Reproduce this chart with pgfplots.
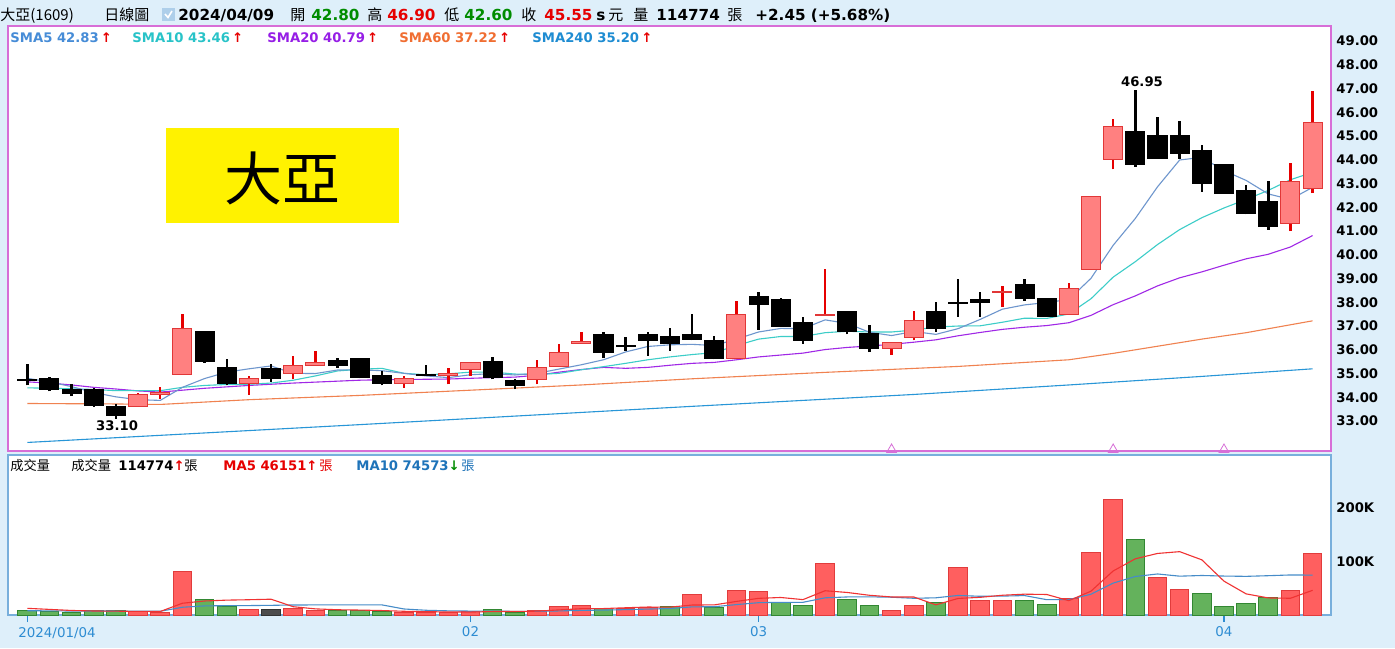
\documentclass[border=0pt]{standalone}
\usepackage{pgfplots}
\pgfplotsset{compat=1.18}
\usepackage{pgfplotstable}
\usepackage{fontspec}
\setmainfont{DejaVu Sans}
\newfontfamily\cjk{Noto Sans CJK TC}
\definecolor{bg}{RGB}{222,239,250}
\definecolor{pinkb}{RGB}{215,110,215}
\definecolor{blueb}{RGB}{120,175,220}
\definecolor{upfill}{RGB}{255,128,128}
\definecolor{upline}{RGB}{225,55,55}
\definecolor{wickred}{RGB}{230,0,0}
\definecolor{volred}{RGB}{255,95,95}
\definecolor{volredl}{RGB}{225,60,60}
\definecolor{volgreen}{RGB}{100,178,92}
\definecolor{volgreenl}{RGB}{50,135,50}
\definecolor{smaA}{RGB}{110,150,205}
\definecolor{smaB}{RGB}{60,205,200}
\definecolor{smaC}{RGB}{160,40,230}
\definecolor{smaD}{RGB}{240,130,80}
\definecolor{smaE}{RGB}{40,150,215}
\definecolor{txA}{RGB}{70,140,215}
\definecolor{txB}{RGB}{40,195,200}
\definecolor{txC}{RGB}{150,30,230}
\definecolor{txD}{RGB}{240,110,50}
\definecolor{txE}{RGB}{30,140,210}
\definecolor{hdgreen}{RGB}{0,140,0}
\definecolor{hdred}{RGB}{230,0,0}
\definecolor{xlab}{RGB}{45,140,210}
\definecolor{maten}{RGB}{30,115,185}
\definecolor{ma10line}{RGB}{70,140,200}
\definecolor{ma5line}{RGB}{240,50,50}
\newcommand\tickfont{\fontsize{6.6}{7.5}\selectfont\bfseries}
\newcommand\hdf{\fontsize{7.6}{9}\selectfont\bfseries}
\newcommand\hcf{\fontsize{7.5}{9}\selectfont\cjk}
\newcommand\lgf{\fontsize{6.6}{8}\selectfont\bfseries}
\newcommand\lcf{\fontsize{6.6}{8}\selectfont\cjk}

\pgfplotstableread{
i o h l c
0 34.75 35.40 34.50 34.70
1 34.80 34.85 34.25 34.35
2 34.35 34.55 34.05 34.15
3 34.35 34.40 33.60 33.65
4 33.60 33.70 33.10 33.25
5 33.60 34.20 33.60 34.10
6 34.10 34.45 33.95 34.20
7 34.95 37.50 34.95 36.90
8 36.75 36.75 35.45 35.50
9 35.25 35.60 34.50 34.60
10 34.60 34.90 34.10 34.80
11 35.20 35.40 34.65 34.80
12 35.00 35.75 34.75 35.35
13 35.35 35.95 35.35 35.45
14 35.55 35.65 35.25 35.35
15 35.65 35.65 34.80 34.85
16 34.90 35.10 34.50 34.60
17 34.60 34.90 34.40 34.80
18 34.95 35.35 34.90 34.90
19 34.90 35.25 34.55 35.00
20 35.15 35.50 34.90 35.45
21 35.50 35.70 34.75 34.85
22 34.70 34.75 34.35 34.50
23 34.75 35.55 34.55 35.25
24 35.30 36.25 35.30 35.90
25 36.25 36.75 36.25 36.35
26 36.65 36.75 35.65 35.90
27 36.20 36.55 35.95 36.15
28 36.65 36.75 35.75 36.40
29 36.55 36.90 35.95 36.25
30 36.65 37.50 36.40 36.45
31 36.40 36.60 35.60 35.65
32 35.65 38.05 35.60 37.50
33 38.25 38.45 36.85 37.90
34 38.10 38.20 37.00 37.00
35 37.15 37.40 36.25 36.40
36 37.45 39.40 37.45 37.50
37 37.60 37.65 36.65 36.75
38 36.70 37.05 35.90 36.05
39 36.05 36.30 35.80 36.30
40 36.50 37.65 36.40 37.25
41 37.60 38.00 36.75 36.90
42 38.00 39.00 37.40 37.95
43 38.10 38.45 37.40 38.00
44 38.40 38.70 37.80 38.45
45 38.75 39.00 38.05 38.15
46 38.15 38.20 37.40 37.40
47 37.50 38.80 37.50 38.60
48 39.40 42.45 39.40 42.45
49 44.00 45.70 43.60 45.40
50 45.20 46.95 43.70 43.80
51 45.00 45.80 44.05 44.05
52 45.00 45.65 44.05 44.25
53 44.40 44.60 42.65 43.00
54 43.80 43.80 42.60 42.60
55 42.70 42.95 41.70 41.75
56 42.25 43.10 41.05 41.20
57 41.30 43.85 41.00 43.10
58 42.80 46.90 42.60 45.55
}\ohlc

\pgfplotstableread{
i s5 s10 s20
0 34.80 34.40 34.65
1 34.65 34.38 34.60
2 34.45 34.36 34.52
3 34.20 34.33 34.42
4 34.02 34.28 34.35
5 33.90 34.28 34.27
6 33.87 34.28 34.22
7 34.42 34.42 34.30
8 34.79 34.50 34.38
9 35.06 34.54 34.44
10 35.20 34.55 34.50
11 35.32 34.60 34.55
12 35.01 34.72 34.60
13 35.00 34.90 34.64
14 35.15 35.11 34.68
15 35.16 35.18 34.72
16 35.12 35.22 34.74
17 35.01 35.01 34.75
18 34.90 34.95 34.76
19 34.83 34.99 34.77
20 34.95 35.06 34.80
21 35.00 35.06 34.83
22 34.94 34.98 34.85
23 35.01 34.96 34.93
24 35.19 35.01 35.06
25 35.37 35.16 35.17
26 35.58 35.29 35.26
27 35.91 35.43 35.22
28 36.14 35.58 35.26
29 36.21 35.70 35.35
30 36.23 35.80 35.43
31 36.18 35.88 35.47
32 36.45 36.18 35.58
33 36.75 36.45 35.70
34 36.90 36.56 35.78
35 36.89 36.56 35.86
36 37.26 36.72 36.01
37 37.11 36.78 36.10
38 36.74 36.75 36.16
39 36.60 36.75 36.23
40 36.77 36.83 36.32
41 36.65 36.96 36.42
42 36.89 37.00 36.59
43 37.28 37.01 36.73
44 37.71 37.16 36.86
45 37.89 37.33 36.95
46 37.99 37.32 37.02
47 38.12 37.51 37.14
48 39.01 38.15 37.45
49 40.40 39.06 37.90
50 41.53 39.71 38.27
51 42.86 40.43 38.69
52 43.99 41.06 39.03
53 44.10 41.56 39.28
54 43.54 41.97 39.56
55 43.13 42.33 39.83
56 42.56 42.71 40.02
57 42.33 43.16 40.33
58 42.84 43.47 40.81
}\sma

\pgfplotstableread{
i v
0 33.74
4 33.72
6 33.70
10 33.90
15 34.08
20 34.30
25 34.52
30 34.78
36 35.05
42 35.30
47 35.58
49 35.85
51 36.15
53 36.45
55 36.72
58 37.22
}\smasixty

\pgfplotstableread{
i v
0 32.10
15 32.85
30 33.62
40 34.12
47 34.52
53 34.88
58 35.20
}\smatwoforty

\pgfplotstableread{
i m5 m10
0 12.5 8.0
1 10.5 7.8
2 8.5 7.5
3 7.5 7.5
4 7.2 7.4
5 6.72 7.2
6 6.6 7.0
7 22.0 14.5
8 26.2 17.0
9 27.82 17.51
10 28.56 17.64
11 29.56 18.08
12 15.52 18.76
13 11.46 18.83
14 9.84 18.83
15 9.22 18.89
16 8.34 18.95
17 6.98 11.25
18 6.24 8.85
19 5.74 7.79
20 5.48 7.35
21 6.48 7.41
22 6.6 6.79
23 7.2 6.72
24 9.56 7.65
25 11.8 8.64
26 12.06 9.27
27 13.54 10.07
28 14.92 11.06
29 14.68 12.12
30 18.68 15.24
31 18.92 15.49
32 25.4 19.47
33 31.14 23.03
34 32.76 23.72
35 28.76 23.72
36 45.34 32.13
37 42.12 33.76
38 36.88 34.01
39 33.74 33.25
40 33.74 31.25
41 19.0 32.17
42 30.94 36.53
43 33.06 34.97
44 36.94 35.34
45 38.94 36.34
46 38.36 28.68
47 26.8 28.87
48 44.6 38.83
49 82.32 59.63
50 105.04 71.99
51 115.04 76.7
52 118.4 72.6
53 103.12 73.86
54 63.28 72.8
55 39.46 72.25
56 31.92 73.48
57 31.3 74.85
58 46.15 74.57
}\volma

\pgfplotsset{
  upwick/.style={draw=wickred, line width=1.2pt},
  dnwick/.style={draw=black, line width=1.2pt},
  upbody/.style={fill=upfill, draw=upline, line width=0.5pt},
  dnbody/.style={fill=black, draw=black, line width=0.5pt},
}

\begin{document}
\begin{tikzpicture}
\begin{scope}[x=0.5pt,y=-0.5pt]
\fill[bg] (0,0) rectangle (1395,648);
\useasboundingbox (0,0) rectangle (1395,648);
\end{scope}

% ---------- price panel ----------
\begin{axis}[
  at={(4pt,-225.5pt)}, anchor=south west,
  scale only axis, width=661.5pt, height=212.5pt,
  xmin=-0.871, xmax=58.83, ymin=31.74, ymax=49.63,
  axis background/.style={fill=white},
  axis line style={draw=pinkb, line width=0.6pt},
  xtick=\empty,
  ytick={33,34,...,49},
  yticklabel pos=right,
  major tick length=0pt,
  yticklabel style={anchor=west, inner sep=0pt, xshift=2.5pt, font=\tickfont,
    /pgf/number format/fixed, /pgf/number format/fixed zerofill,
    /pgf/number format/precision=2, /pgf/number format/assume math mode=true},
]
\addplot[smaE, line width=0.55pt] table[x=i,y=v] {\smatwoforty};
\addplot[smaD, line width=0.55pt] table[x=i,y=v] {\smasixty};
\addplot[smaC, line width=0.55pt] table[x=i,y=s20] {\sma};
\addplot[smaB, line width=0.55pt] table[x=i,y=s10] {\sma};
\addplot[smaA, line width=0.55pt] table[x=i,y=s5] {\sma};
\pgfplotsforeachungrouped \k in {0,...,58}{%
  \pgfplotstablegetelem{\k}{o}\of\ohlc \let\O\pgfplotsretval
  \pgfplotstablegetelem{\k}{h}\of\ohlc \let\H\pgfplotsretval
  \pgfplotstablegetelem{\k}{l}\of\ohlc \let\L\pgfplotsretval
  \pgfplotstablegetelem{\k}{c}\of\ohlc \let\C\pgfplotsretval
  \pgfmathsetmacro\xa{\k-0.43}%
  \pgfmathsetmacro\xb{\k+0.43}%
  \pgfmathparse{\C>\O ? 1 : 0}%
  \ifdim\pgfmathresult pt>0.5pt \def\kind{up}\else\def\kind{dn}\fi
  \edef\doplot{%
    \noexpand\addplot[\kind wick] coordinates {(\k,\L) (\k,\H)};%
    \noexpand\addplot[\kind body] coordinates {(\xa,\O) (\xb,\O) (\xb,\C) (\xa,\C)} -- cycle;%
  }\doplot
}
\addplot[only marks, mark=triangle, mark size=2.8pt, draw=pinkb] coordinates {(39,31.80) (49,31.80) (54,31.80)};
\node[font=\tickfont] at (axis cs:4.05,32.82) {33.10};
\node[font=\tickfont] at (axis cs:50.3,47.3) {46.95};
\end{axis}

% ---------- volume panel ----------
\begin{axis}[
  at={(4pt,-307.5pt)}, anchor=south west,
  scale only axis, width=661.5pt, height=80pt,
  xmin=-0.871, xmax=58.83, ymin=0, ymax=299,
  axis background/.style={fill=white},
  axis line style={draw=blueb, line width=0.6pt},
  xtick={0,20,33,54}, xticklabels={,02,03,04},
  xtick pos=left,
  tick align=outside,
  major tick length=3.5pt,
  xtick style={draw=xlab, line width=0.6pt},
  xticklabel style={font=\fontsize{6.7}{8}\selectfont, text=xlab, inner sep=0pt, yshift=-2pt},
  ytick={100,200}, yticklabels={100K,200K},
  yticklabel pos=right,
  ytick style={draw=none},
  yticklabel style={anchor=west, inner sep=0pt, xshift=-1pt, font=\tickfont},
]
\addplot[ybar, bar width=0.84, bar shift=0pt, fill=volred, draw=volredl, line width=0.5pt] coordinates {
(5,6.9) (6,5.6) (7,82) (10,10.6) (12,11.8) (13,8.7) (17,5.0) (18,5.0) (19,5.0) (20,6.2)
(23,8.0) (24,16.8) (25,17.4) (27,13.0) (28,14.9) (30,37.4) (32,45.4) (33,43.6) (36,96.6)
(39,8.0) (40,17.4) (42,89) (43,28) (44,27.4) (47,31.2) (48,117) (49,216) (51,70) (52,48)
(57,44.9) (58,114.774)};
\addplot[ybar, bar width=0.84, bar shift=0pt, fill=volgreen, draw=volgreenl, line width=0.5pt] coordinates {
(0,9.3) (1,6.2) (2,5.0) (3,8.0) (4,7.5) (8,29) (9,15.6) (14,7.5) (15,7.5) (16,6.2) (21,11.2)
(22,5.6) (26,12.5) (29,15.6) (31,13.7) (34,23.7) (35,17.4) (37,29.3) (38,17.4) (41,22.9)
(45,27.4) (46,20) (50,141) (53,40.6) (54,16.8) (55,21.9) (56,32.3)};
\addplot[ybar, bar width=0.84, bar shift=0pt, fill=black!70, draw=black!80, line width=0.5pt] coordinates {(11,10.6)};
\addplot[ma10line, line width=0.55pt] table[x=i,y=m10] {\volma};
\addplot[ma5line, line width=0.55pt] table[x=i,y=m5] {\volma};
\end{axis}

% ---------- texts ----------
\begin{scope}[x=0.5pt,y=-0.5pt]
% header
\node[anchor=base west, inner sep=0pt] at (0,20) {\hcf 大亞(1609)};
\node[anchor=base west, inner sep=0pt] at (104,20) {\hcf 日線圖};
\fill[blueb!60] (162,8) rectangle (175,21);
\draw[white, line width=0.8pt] (165,14) -- (168,17.5) -- (172,11);
\node[anchor=base west, inner sep=0pt] at (178,20) {\hdf 2024/04/09};
\node[anchor=base west, inner sep=0pt] at (290,20) {\hcf 開};
\node[anchor=base west, inner sep=0pt, text=hdgreen] at (311,20) {\hdf 42.80};
\node[anchor=base west, inner sep=0pt] at (367,20) {\hcf 高};
\node[anchor=base west, inner sep=0pt, text=hdred] at (387,20) {\hdf 46.90};
\node[anchor=base west, inner sep=0pt] at (444,20) {\hcf 低};
\node[anchor=base west, inner sep=0pt, text=hdgreen] at (464,20) {\hdf 42.60};
\node[anchor=base west, inner sep=0pt] at (521,20) {\hcf 收};
\node[anchor=base west, inner sep=0pt, text=hdred] at (544,20) {\hdf 45.55};
\node[anchor=base west, inner sep=0pt] at (596,20) {\hdf s};
\node[anchor=base west, inner sep=0pt] at (608,20) {\hcf 元};
\node[anchor=base west, inner sep=0pt] at (633,20) {\hcf 量};
\node[anchor=base west, inner sep=0pt] at (656,20) {\hdf 114774};
\node[anchor=base west, inner sep=0pt] at (727,20) {\hcf 張};
\node[anchor=base west, inner sep=0pt] at (755,20) {\hdf +2.45 (+5.68\%)};
% SMA legend
\node[anchor=base west, inner sep=0pt, text=txA] at (10,42) {\lgf SMA5 42.83\,\textcolor{hdred}{↑}};
\node[anchor=base west, inner sep=0pt, text=txB] at (132,42) {\lgf SMA10 43.46\,\textcolor{hdred}{↑}};
\node[anchor=base west, inner sep=0pt, text=txC] at (267,42) {\lgf SMA20 40.79\,\textcolor{hdred}{↑}};
\node[anchor=base west, inner sep=0pt, text=txD] at (399,42) {\lgf SMA60 37.22\,\textcolor{hdred}{↑}};
\node[anchor=base west, inner sep=0pt, text=txE] at (532,42) {\lgf SMA240 35.20\,\textcolor{hdred}{↑}};
% yellow label
\fill[yellow] (166,128) rectangle (399,223);
\node[inner sep=0pt] at (282,178) {\fontsize{29}{32}\selectfont\cjk 大亞};
% volume legend
\node[anchor=base west, inner sep=0pt] at (10,470) {\lcf 成交量};
\node[anchor=base west, inner sep=0pt] at (71,470) {\lcf 成交量};
\node[anchor=base west, inner sep=0pt] at (118,470) {\lgf 114774\textcolor{hdred}{↑}};
\node[anchor=base west, inner sep=0pt] at (184,470) {\lcf 張};
\node[anchor=base west, inner sep=0pt, text=hdred] at (223,470) {\lgf MA5 46151↑};
\node[anchor=base west, inner sep=0pt, text=hdred] at (319,470) {\lcf 張};
\node[anchor=base west, inner sep=0pt, text=maten] at (356,470) {\lgf MA10 74573\textcolor{hdgreen}{↓}};
\node[anchor=base west, inner sep=0pt, text=maten] at (461,470) {\lcf 張};
% first date label
\node[anchor=west, inner sep=0pt, text=xlab, font=\fontsize{6.7}{8}\selectfont] at (18,633) {2024/01/04};
\end{scope}
\end{tikzpicture}
\end{document}
